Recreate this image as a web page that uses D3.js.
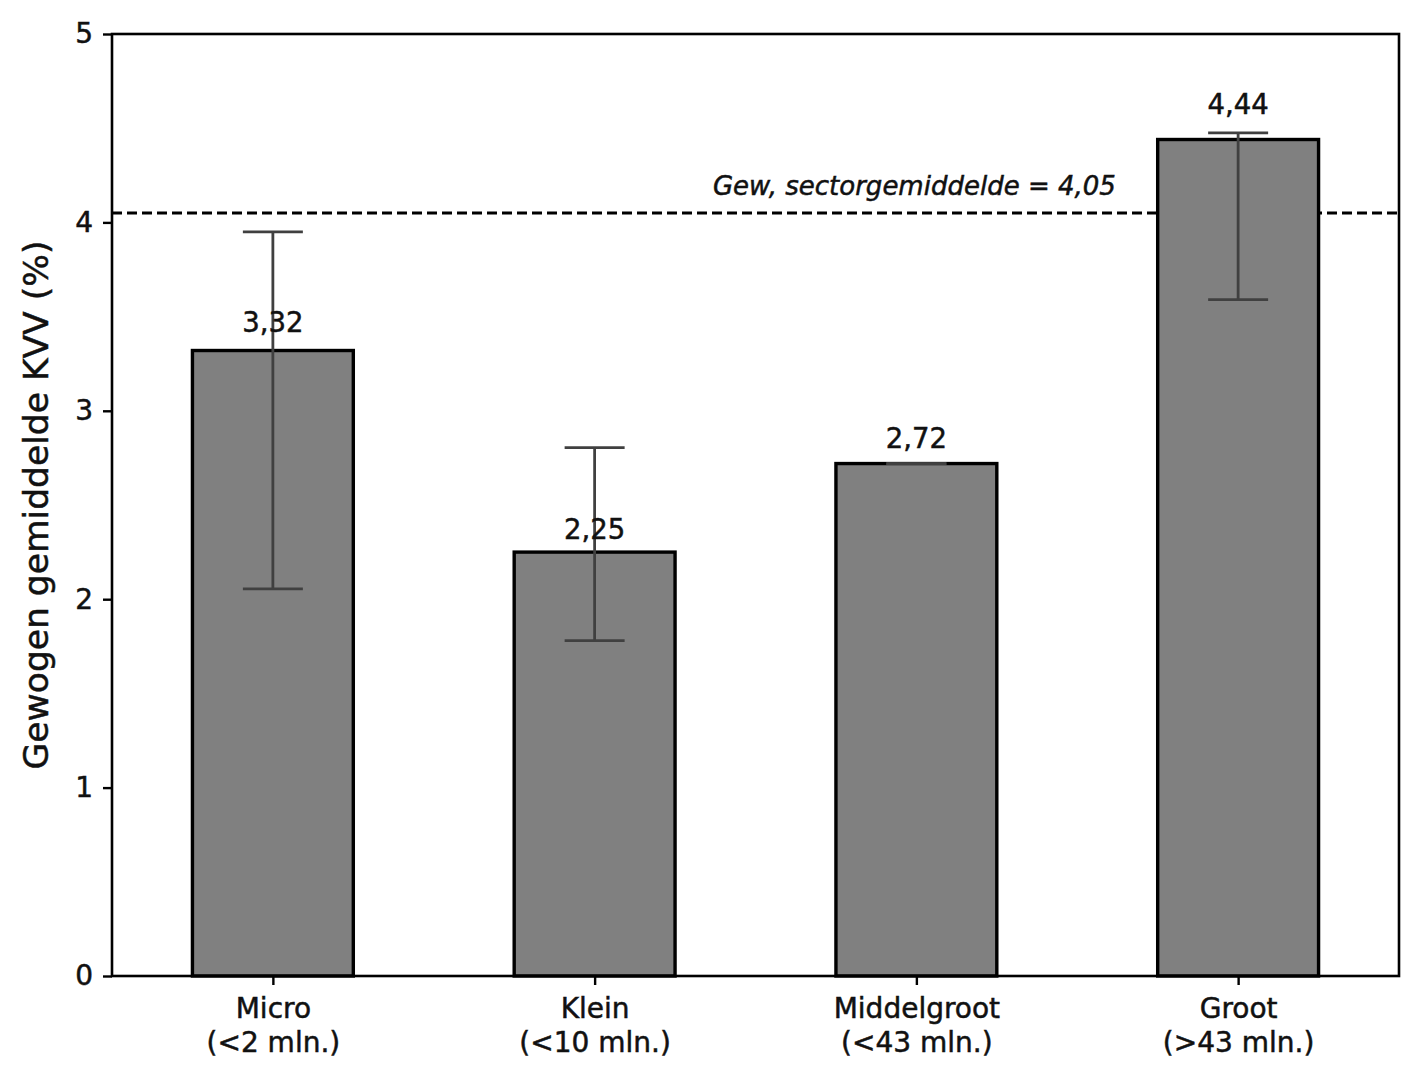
<!DOCTYPE html>
<html><head><meta charset="utf-8">
<script src="https://cdn.jsdelivr.net/npm/d3@7"></script>
<style>body{margin:0;background:#fff}svg{display:block}text{font-family:"DejaVu Sans",sans-serif;stroke:#111;stroke-width:0.5px}</style>
</head><body><svg id="c" width="1420" height="1080"></svg>
<script>
const categories = ["Micro\n(<2 mln.)", "Klein\n(<10 mln.)", "Middelgroot\n(<43 mln.)", "Groot\n(>43 mln.)"];
const values = [3.32, 2.25, 2.72, 4.44];
const errLow = [2.055, 1.78, 2.72, 3.59];
const errHigh = [3.95, 2.805, 2.72, 4.475];
const valueLabels = ["3,32", "2,25", "2,72", "4,44"];
const yTicks = [0, 1, 2, 3, 4, 5];
const sectorAvg = 4.05;
const sectorLabel = "Gew, sectorgemiddelde = 4,05";
const yLabel = "Gewogen gemiddelde KVV (%)";

const svg = d3.select("#c");
const L = 112, R = 1399, T = 34, B = 976;
const x = d3.scaleLinear().domain([-0.5, 3.5]).range([L, R]);
const y = d3.scaleLinear().domain([0, 5]).range([B, T]);
const barW = x(0.25) - x(-0.25);

// dashed average line (behind bars)
svg.append("line").attr("x1", L).attr("x2", R).attr("y1", y(sectorAvg)).attr("y2", y(sectorAvg))
  .attr("stroke", "#000").attr("stroke-width", 3).attr("stroke-dasharray", "10,5");
svg.append("text").attr("x", x(2.62)).attr("y", y(sectorAvg) - 18)
  .attr("text-anchor", "end").attr("font-style", "italic").attr("font-size", 26).attr("fill", "#111")
  .text(sectorLabel);

// bars
svg.selectAll("rect.bar").data(values).join("rect").attr("class", "bar")
  .attr("x", (d, i) => x(i) - barW / 2).attr("width", barW)
  .attr("y", d => y(d)).attr("height", d => y(0) - y(d))
  .attr("fill", "#808080").attr("stroke", "#000").attr("stroke-width", 3.4);

// error bars
const eg = svg.append("g").attr("stroke", "#404040").attr("stroke-width", 2.8);
values.forEach((v, i) => {
  const cx = x(i);
  eg.append("line").attr("x1", cx).attr("x2", cx).attr("y1", y(errLow[i])).attr("y2", y(errHigh[i]));
  eg.append("line").attr("x1", cx - 30).attr("x2", cx + 30).attr("y1", y(errLow[i])).attr("y2", y(errLow[i]));
  eg.append("line").attr("x1", cx - 30).attr("x2", cx + 30).attr("y1", y(errHigh[i])).attr("y2", y(errHigh[i]));
});

// value labels
svg.selectAll("text.val").data(values).join("text").attr("class", "val")
  .attr("x", (d, i) => x(i)).attr("y", d => y(d * 1.03))
  .attr("text-anchor", "middle").attr("font-size", 27.5).attr("fill", "#111")
  .text((d, i) => valueLabels[i]);

// frame
svg.append("rect").attr("x", L).attr("y", T).attr("width", R - L).attr("height", B - T)
  .attr("fill", "none").attr("stroke", "#000").attr("stroke-width", 2.6);

// y axis
const yAxis = d3.axisLeft(y).tickValues(yTicks).tickSize(9).tickPadding(10).tickFormat(d3.format("d"));
const gy = svg.append("g").attr("transform", `translate(${L},0)`).call(yAxis);
gy.select(".domain").remove();
gy.selectAll(".tick line").attr("stroke", "#000").attr("stroke-width", 2.4);
gy.selectAll(".tick text").attr("font-size", 28).attr("fill", "#111").attr("font-family", "DejaVu Sans");

// x axis
const xAxis = d3.axisBottom(x).tickValues(d3.range(categories.length)).tickSize(9).tickFormat(() => "");
const gx = svg.append("g").attr("transform", `translate(0,${B})`).call(xAxis);
gx.select(".domain").remove();
gx.selectAll(".tick line").attr("stroke", "#000").attr("stroke-width", 2.4);
gx.selectAll(".tick").each(function (d) {
  const lines = categories[d].split("\n");
  const t = d3.select(this).append("text").attr("text-anchor", "middle").attr("font-size", 28)
    .attr("fill", "#111").attr("font-family", "DejaVu Sans");
  lines.forEach((ln, k) => t.append("tspan").attr("x", 0).attr("y", 42 + k * 34).text(ln));
});

// y label
svg.append("text").attr("transform", `translate(48,${(T + B) / 2}) rotate(-90)`)
  .attr("text-anchor", "middle").attr("font-size", 34.5).attr("fill", "#111").text(yLabel);
</script></body></html>
